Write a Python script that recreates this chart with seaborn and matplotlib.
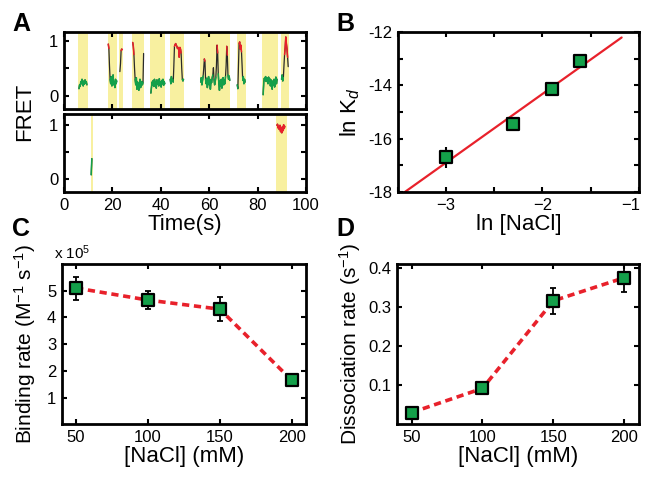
import numpy as np
import pandas as pd
import seaborn as sns
import matplotlib.pyplot as plt
from matplotlib.transforms import ScaledTranslation

# ---- data ----
# panel A: FRET traces (sampled every 0.25 s), events with start times
dt = 0.25
trace1 = [0.13, 0.2, 0.17, 0.26, 0.22, 0.3, 0.24, 0.18, 0.27, 0.21, 0.29, 0.23, 0.26, 0.2]
trace2 = [0.94, 0.86, 0.55, 0.3, 0.22, 0.35, 0.18, 0.28, 0.38, 0.2, 0.26, 0.15, 0.3, 0.22, 0.27]
trace3 = [0.44, 0.58, 0.82, 0.85, 0.84]
trace4 = [0.97, 0.9, 0.75, 0.5, 0.3, 0.2, 0.33, 0.12, 0.25, 0.18, 0.1, 0.22, 0.3, 0.15, 0.2,
          0.26, 0.2, 0.24, 0.77]
trace5 = [0.05, 0.15, 0.25, 0.2, 0.28, 0.17, 0.3, 0.22, 0.26, 0.14, 0.29, 0.21, 0.27, 0.18,
          0.31, 0.2, 0.25, 0.16, 0.28, 0.22, 0.3, 0.19, 0.26, 0.22]
trace6 = [0.3, 0.22, 0.35, 0.26, 0.3, 0.25, 0.55, 0.9, 0.93, 0.95, 0.92, 0.9, 0.86, 0.88,
          0.84, 0.7, 0.88, 0.85, 0.78, 0.5, 0.3, 0.27, 0.3]
trace7 = [0.25, 0.33, 0.2, 0.28, 0.36, 0.5, 0.67, 0.63, 0.3, 0.22, 0.32, 0.15, 0.27, 0.35,
          0.2, 0.3, 0.12, 0.28, 0.24, 0.33, 0.38, 0.51, 0.3, 0.2, 0.26, 0.34, 0.55, 0.92,
          0.78, 0.4, 0.22, 0.1, 0.27, 0.18, 0.3, 0.14, 0.25, 0.33, 0.2, 0.29, 0.22, 0.35,
          0.55, 0.9, 0.74, 0.38, 0.3, 0.36, 0.28]
trace8 = [0.2, 0.13, 0.55, 0.95, 0.98, 0.85, 0.92, 0.8, 0.55, 0.28, 0.35, 0.22, 0.3, 0.25]
trace9 = [0.02, 0.25, 0.32, 0.28, 0.35, 0.26, 0.33, 0.3, 0.22, 0.34, 0.27, 0.31, 0.18, 0.29,
          0.24, 0.12, 0.27, 0.2, 0.3, 0.16, 0.26, 0.34, 0.22, 0.3]
trace10 = [0.3, 0.38, 0.27, 0.33, 0.55, 0.75, 0.88, 1.07, 0.95, 0.85, 0.7, 0.53]
top_starts = [6.2, 18.3, 23.1, 28.4, 35.9, 43.9, 56.5, 71.6, 82.3, 89.9]
top_traces = [trace1, trace2, trace3, trace4, trace5, trace6, trace7, trace8, trace9, trace10]
top_spans = [(5.9, 9.8), (18.0, 22.0), (22.9, 24.3), (28.2, 33.1), (35.7, 41.9),
             (43.8, 49.6), (56.2, 68.7), (71.5, 75.1), (82.0, 88.3), (89.7, 92.9)]

trace11 = [0.08, 0.38]
trace12 = [1.0, 1.02, 0.95, 0.98, 0.92, 1.0, 0.88, 0.96, 0.86, 0.97, 0.9, 1.01, 0.94, 0.98]
bottom_starts = [11.25, 88.0]
bottom_traces = [trace11, trace12]
bottom_spans = [(11.0, 11.8), (87.5, 92.0)]

# panels B-D
nacl = np.array([50, 100, 150, 200])          # mM
ln_kd = [-16.7, -15.45, -14.13, -13.08]
ln_kd_err = [0.4, 0.0, 0.0, 0.0]
kon = [5.1, 4.65, 4.31, 1.65]                  # x 1e5 M^-1 s^-1
kon_err = [0.43, 0.35, 0.45, 0.15]
koff = [0.03, 0.092, 0.316, 0.375]             # s^-1
koff_err = [0.004, 0.006, 0.033, 0.037]

# ---- style ----
sns.set_theme(style="ticks")
plt.rcParams['font.family'] = ['Liberation Sans', 'DejaVu Sans']
plt.rcParams['mathtext.fontset'] = 'custom'
plt.rcParams['mathtext.rm'] = 'Liberation Sans'
plt.rcParams['mathtext.it'] = 'Liberation Sans:italic'
plt.rcParams['text.color'] = 'black'
plt.rcParams['axes.labelcolor'] = 'black'

GREEN = '#14a04a'
RED = '#e8212b'
YELLOW = '#f8f0a0'
TICK_FS = 12
LABEL_FS = 16
YLABEL_FS = 15


def style_axes(ax):
    for s in ax.spines.values():
        s.set_linewidth(2)
        s.set_color('black')
    ax.tick_params(which='both', direction='in', top=True, right=True, length=3.5,
                   width=1.5, labelsize=TICK_FS, colors='black', pad=4)


def draw_trace(ax, t0, vals):
    t = t0 + dt * np.arange(len(vals))
    v = np.array(vals, dtype=float)
    ax.plot(t, v, color='#2a2a2a', lw=0.9, zorder=2)
    ax.plot(t, np.where(v <= 0.42, v, np.nan), color=GREEN, lw=1.1, zorder=3)
    ax.plot(t, np.where(v >= 0.6, v, np.nan), color=RED, lw=1.1, zorder=3)


fig = plt.figure(figsize=(6.45, 4.8), dpi=100)

# ---- panel A ----
axA1 = fig.add_axes([0.0992, 0.7729, 0.3752, 0.1604])
axA2 = fig.add_axes([0.0992, 0.6, 0.3752, 0.1625])
for ax, spans, starts, traces, ylim in [
        (axA1, top_spans, top_starts, top_traces, (-0.24, 1.16)),
        (axA2, bottom_spans, bottom_starts, bottom_traces, (-0.24, 1.21))]:
    for s, e in spans:
        ax.axvspan(s, e, color=YELLOW, lw=0, zorder=0)
    for t0, vals in zip(starts, traces):
        draw_trace(ax, t0, vals)
    ax.set_xlim(0, 100)
    ax.set_ylim(*ylim)
    ax.set_xticks([0, 20, 40, 60, 80, 100])
    ax.set_yticks([0, 0.5, 1])
    ax.set_yticklabels(['0', '', '1'])
    style_axes(ax)
axA1.set_xticklabels([])
axA2.set_xlabel('Time(s)', fontsize=LABEL_FS, labelpad=1)
fig.text(0.038, 0.767, 'FRET', rotation=90, fontsize=LABEL_FS, ha='center', va='center')

# ---- panel B ----
axB = fig.add_axes([0.6166, 0.6, 0.3741, 0.3333])
ln_nacl = np.log(nacl / 1000.0)
slope, intercept = np.polyfit(ln_nacl, ln_kd, 1)
fit_x = np.array([-3.45, -1.18])
sns.lineplot(x=fit_x, y=slope * fit_x + intercept, ax=axB, color=RED, lw=1.6, zorder=2)
axB.errorbar(ln_nacl, ln_kd, yerr=ln_kd_err, fmt='none', ecolor='black', elinewidth=1.5,
             capsize=0, zorder=3)
sns.scatterplot(x=ln_nacl, y=ln_kd, ax=axB, marker='s', s=85, color=GREEN,
                edgecolor='black', linewidth=1.6, zorder=4)
axB.set_xlim(-3.5, -1)
axB.set_ylim(-18, -12)
axB.set_xticks([-3, -2, -1])
axB.set_xticks([-3.5, -2.5, -1.5], minor=True)
axB.set_yticks([-18, -16, -14, -12])
axB.set_yticklabels(['-18', '-16', '-14', '-12'])
axB.set_yticks([-17, -15, -13], minor=True)
style_axes(axB)
last = axB.get_xticklabels()[-1]
last.set_transform(last.get_transform() + ScaledTranslation(-6 / 72, 0, fig.dpi_scale_trans))
axB.set_xlabel('ln [NaCl]', fontsize=LABEL_FS, labelpad=1)
axB.set_ylabel('ln K$_d$', fontsize=LABEL_FS, labelpad=4)

# ---- panel C ----
axC = fig.add_axes([0.0957, 0.116, 0.3788, 0.334])
sns.lineplot(x=nacl, y=kon, ax=axC, color=RED, lw=2.6, linestyle=(0, (2.0, 1.3)), zorder=2)
axC.errorbar(nacl, kon, yerr=kon_err, fmt='none', ecolor='black', elinewidth=1.3,
             capsize=2.5, capthick=1.3, zorder=3)
sns.scatterplot(x=nacl, y=kon, ax=axC, marker='s', s=85, color=GREEN,
                edgecolor='black', linewidth=1.6, zorder=4)
axC.set_xlim(40, 210)
axC.set_ylim(0, 6)
axC.set_xticks([50, 100, 150, 200])
axC.set_yticks([1, 2, 3, 4, 5])
style_axes(axC)
axC.set_xlabel('[NaCl] (mM)', fontsize=LABEL_FS, labelpad=1)
axC.set_ylabel('Binding rate (M$^{-1}$ s$^{-1}$)', fontsize=YLABEL_FS, labelpad=6)
axC.text(-0.03, 1.01, 'x 10$^5$', transform=axC.transAxes, ha='left', va='bottom',
         fontsize=TICK_FS - 1)

# ---- panel D ----
axD = fig.add_axes([0.616, 0.116, 0.3741, 0.334])
sns.lineplot(x=nacl, y=koff, ax=axD, color=RED, lw=2.6, linestyle=(0, (2.0, 1.3)), zorder=2)
axD.errorbar(nacl, koff, yerr=koff_err, fmt='none', ecolor='black', elinewidth=1.3,
             capsize=2.5, capthick=1.3, zorder=3)
sns.scatterplot(x=nacl, y=koff, ax=axD, marker='s', s=85, color=GREEN,
                edgecolor='black', linewidth=1.6, zorder=4)
axD.set_xlim(40, 210)
axD.set_ylim(0, 0.41)
axD.set_xticks([50, 100, 150, 200])
axD.set_yticks([0.1, 0.2, 0.3, 0.4])
style_axes(axD)
axD.set_xlabel('[NaCl] (mM)', fontsize=LABEL_FS, labelpad=1)
axD.set_ylabel('Dissociation rate (s$^{-1}$)', fontsize=YLABEL_FS, labelpad=4)

# panel letters
for x, y, letter in [(0.033, 0.95, 'A'), (0.535, 0.95, 'B'), (0.033, 0.522, 'C'),
                     (0.535, 0.522, 'D')]:
    fig.text(x, y, letter, fontsize=18, fontweight='bold', ha='center', va='center')

fig.savefig('out.png', dpi=100)
